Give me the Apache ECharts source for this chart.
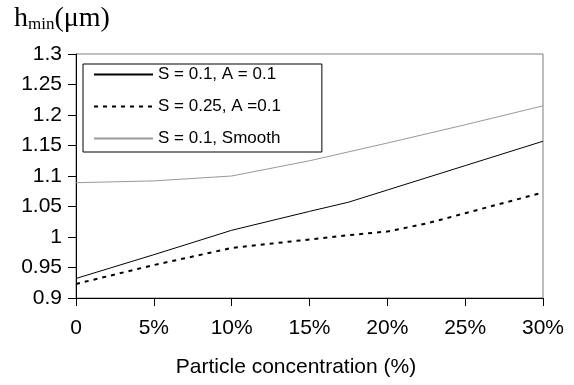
<!DOCTYPE html>
<html>
<head>
<meta charset="utf-8">
<script src="https://cdn.jsdelivr.net/npm/echarts@6/dist/echarts.min.js"></script>
<style>
  html, body { margin: 0; padding: 0; background: #fff; }
  #chart { width: 574px; height: 385px; }
</style>
</head>
<body>
<div id="chart"></div>
<script>
// ---- data ----
const seriesNames = ['S = 0.1, A = 0.1', 'S = 0.25, A =0.1', 'S = 0.1, Smooth'];

const xSolid  = [0, 5, 10, 15, 17.5, 20, 25, 30];
const ySolid  = [0.932, 0.971, 1.011, 1.042, 1.057, 1.077, 1.117, 1.157];

const xDashed = [0, 5, 10, 15, 17.5, 20, 22.5, 25, 27.5, 30];
const yDashed = [0.923, 0.954, 0.982, 0.996, 1.003, 1.009, 1.022, 1.039, 1.056, 1.073];

const xSmooth = [0, 5, 10, 15, 20, 25, 30];
const ySmooth = [1.089, 1.092, 1.100, 1.125, 1.154, 1.184, 1.215];

const xTicks = [0, 5, 10, 15, 20, 25, 30];
const yTicks = [0.9, 0.95, 1, 1.05, 1.1, 1.15, 1.2, 1.25, 1.3];

const xAxisTitle = 'Particle concentration (%)';

function pairs(xs, ys) { return xs.map((x, i) => [x, ys[i]]); }

const FONT = "'Liberation Sans', Arial, sans-serif";
const SERIF = "'Liberation Serif', 'Times New Roman', serif";

const chart = echarts.init(document.getElementById('chart'), null, { renderer: 'canvas' });
chart.setOption({
  animation: false,
  backgroundColor: '#fff',
  title: {
    text: '{h|h}{s|min}{h|(μm)}',
    left: 14,
    top: 3,
    padding: 0,
    textStyle: {
      fontWeight: 'normal',
      rich: {
        h: { fontFamily: SERIF, fontSize: 28, fontWeight: 'normal', color: '#000', verticalAlign: 'bottom', lineHeight: 30 },
        s: { fontFamily: SERIF, fontSize: 17, fontWeight: 'normal', color: '#000', verticalAlign: 'bottom', lineHeight: 16 }
      }
    }
  },
  grid: {
    left: 76, right: 31, top: 54, bottom: 87,
    show: true, borderColor: '#7f7f7f', borderWidth: 1, backgroundColor: '#fff'
  },
  legend: {
    orient: 'vertical',
    left: 83, top: 64,
    padding: [2, 41, 5, 10],
    itemWidth: 59, itemHeight: 14, itemGap: 15,
    backgroundColor: '#fff',
    borderColor: '#000', borderWidth: 1,
    itemStyle: { opacity: 0 },
    textStyle: { fontFamily: FONT, fontSize: 17, color: '#000' },
    data: seriesNames
  },
  xAxis: {
    type: 'value',
    min: xTicks[0], max: xTicks[xTicks.length - 1], interval: 5,
    axisLine: { show: true, onZero: false, lineStyle: { color: '#000', width: 1 } },
    axisTick: { show: true, length: 8, lineStyle: { color: '#000' } },
    splitLine: { show: false },
    axisLabel: {
      margin: 20, color: '#000', fontFamily: FONT, fontSize: 21,
      formatter: v => (v === 0 ? '0' : v + '%')
    },
    name: xAxisTitle,
    nameLocation: 'middle',
    nameGap: 59,
    nameTextStyle: { fontFamily: FONT, fontSize: 21, color: '#000', padding: [0, 27, 0, 0] }
  },
  yAxis: {
    type: 'value',
    min: yTicks[0], max: yTicks[yTicks.length - 1], interval: 0.05,
    axisLine: { show: true, onZero: false, lineStyle: { color: '#000', width: 1 } },
    axisTick: { show: true, length: 8, lineStyle: { color: '#000' } },
    splitLine: { show: false },
    axisLabel: {
      margin: 14, color: '#000', fontFamily: FONT, fontSize: 21,
      formatter: v => String(+v.toFixed(2))
    }
  },
  series: [
    {
      name: seriesNames[0], type: 'line', symbol: 'none', smooth: false,
      data: pairs(xSolid, ySolid),
      lineStyle: { color: '#000', width: 1 }, itemStyle: { color: '#000' }, z: 3
    },
    {
      name: seriesNames[1], type: 'line', symbol: 'none', smooth: false,
      data: pairs(xDashed, yDashed),
      lineStyle: { color: '#000', width: 2, type: [4, 5] }, itemStyle: { color: '#000' }, z: 3
    },
    {
      name: seriesNames[2], type: 'line', symbol: 'none', smooth: false,
      data: pairs(xSmooth, ySmooth),
      lineStyle: { color: '#999', width: 1 }, itemStyle: { color: '#999' }, z: 2
    }
  ]
});
</script>
</body>
</html>
